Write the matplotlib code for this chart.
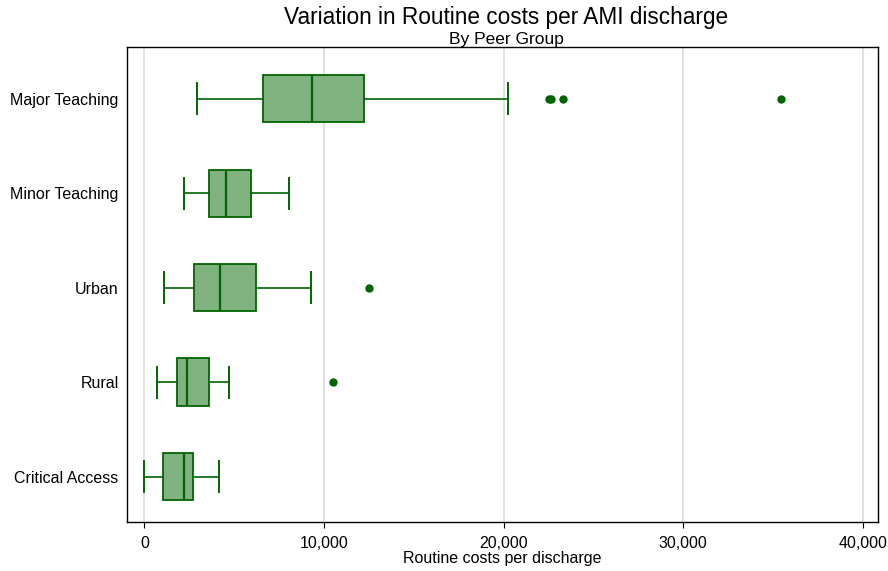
import matplotlib
matplotlib.use("Agg")
import matplotlib.pyplot as plt
from matplotlib.ticker import FuncFormatter

plt.rcParams["font.family"] = ["Liberation Sans", "DejaVu Sans"]

# Peer groups, listed bottom to top
groups = ["Critical Access", "Rural", "Urban", "Minor Teaching", "Major Teaching"]

# Five-number summaries (routine cost per discharge, $)
whisker_low = [0, 700, 1100, 2200, 2900]
q1 = [1050, 1790, 2760, 3610, 6580]
median = [2200, 2370, 4210, 4560, 9310]
q3 = [2700, 3590, 6210, 5910, 12230]
whisker_high = [4130, 4710, 9260, 8050, 20230]
outliers = [[], [10480], [12490], [], [22500, 22650, 23330, 35460]]

x_ticks = [0, 10000, 20000, 30000, 40000]

dark_green = "#006400"
fill_green = "#80b27f"

stats = []
for i, g in enumerate(groups):
    stats.append(dict(label=g, whislo=whisker_low[i], q1=q1[i], med=median[i],
                      q3=q3[i], whishi=whisker_high[i], fliers=outliers[i]))

fig = plt.figure(figsize=(8.88, 5.71), dpi=100)
ax = fig.add_axes([0.143, 0.086, 0.846, 0.832])

ax.bxp(stats, positions=range(1, len(groups) + 1), vert=False, widths=0.5,
       patch_artist=True,
       boxprops=dict(facecolor=fill_green, edgecolor=dark_green, linewidth=1.3),
       medianprops=dict(color=dark_green, linewidth=1.6),
       whiskerprops=dict(color=dark_green, linewidth=1.2),
       capprops=dict(color=dark_green, linewidth=1.4),
       capwidths=0.33,
       flierprops=dict(marker="o", markerfacecolor=dark_green,
                       markeredgecolor=dark_green, markersize=5))

ax.set_xlim(-975, 40860)
ax.set_ylim(0.52, 5.55)
ax.set_xticks(x_ticks)
ax.xaxis.set_major_formatter(FuncFormatter(lambda v, p: f"{int(v):,}"))
ax.set_yticks(range(1, len(groups) + 1))
ax.set_yticklabels(groups)
ax.tick_params(axis="y", length=0, pad=6, labelsize=11.5)
ax.tick_params(axis="x", length=4, pad=6, labelsize=11.5)
ax.grid(axis="x", color="#dcdcdc", linewidth=1.2)
ax.set_axisbelow(True)
for s in ax.spines.values():
    s.set_color("black")
    s.set_linewidth(1.0)

ax.set_xlabel("Routine costs per discharge", fontsize=11.5, labelpad=0)
fig.text(0.57, 0.97, "Variation in Routine costs per AMI discharge",
         ha="center", va="center", fontsize=16.3)
fig.text(0.57, 0.931, "By Peer Group", ha="center", va="center", fontsize=12.5)

fig.savefig("out.png", dpi=100)
